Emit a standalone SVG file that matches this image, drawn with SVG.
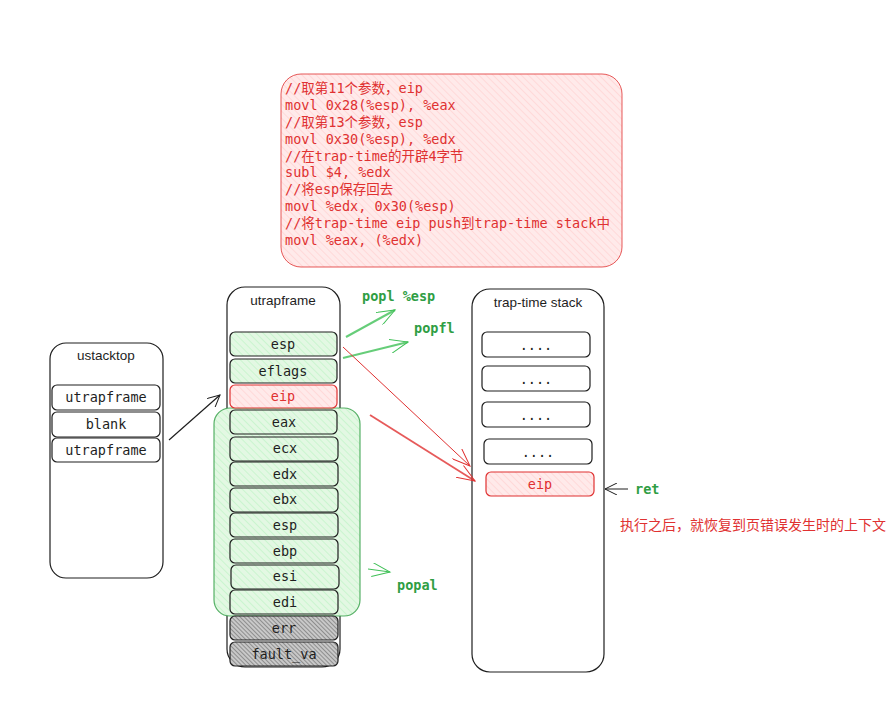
<svg xmlns="http://www.w3.org/2000/svg" width="893" height="715" viewBox="0 0 893 715">
<defs>
<pattern id="hr" width="5" height="5" patternUnits="userSpaceOnUse" patternTransform="rotate(-45)"><rect width="5" height="5" fill="#ffeaea"/><line x1="0" y1="0" x2="0" y2="5" stroke="#ffc9c9" stroke-width="1"/></pattern>
<pattern id="hg" width="5" height="5" patternUnits="userSpaceOnUse" patternTransform="rotate(-45)"><rect width="5" height="5" fill="#e3f8e3"/><line x1="0" y1="0" x2="0" y2="5" stroke="#b2f2bb" stroke-width="1"/></pattern>
<pattern id="hk" width="3" height="3" patternUnits="userSpaceOnUse" patternTransform="rotate(-45)"><rect width="3" height="3" fill="#c8c8c8"/><line x1="0" y1="0" x2="0" y2="3" stroke="#555" stroke-width="1"/></pattern>
<marker id="ab" markerWidth="14" markerHeight="12" refX="12" refY="6" orient="auto" markerUnits="userSpaceOnUse"><path d="M0,0 L12,6 L0,12" fill="none" stroke="#1e1e1e" stroke-width="1"/></marker>
<marker id="ag" markerWidth="20" markerHeight="14" refX="18" refY="7" orient="auto" markerUnits="userSpaceOnUse"><path d="M0,0 L18,7 L0,14" fill="none" stroke="#40c057" stroke-width="1"/></marker>
<marker id="ar" markerWidth="20" markerHeight="14" refX="18" refY="7" orient="auto" markerUnits="userSpaceOnUse"><path d="M0,0 L18,7 L0,14" fill="none" stroke="#e03131" stroke-width="1"/></marker>
</defs>
<style>
.mono{font-family:"DejaVu Sans Mono","Noto Sans CJK SC",monospace;font-size:13.5px}
.hand{font-family:"Liberation Sans","Noto Sans",sans-serif;font-size:13.5px;fill:#1e1e1e}
.cont{fill:#fff;stroke:#1e1e1e;stroke-width:1.2}
.row{fill:#fff;stroke:#1e1e1e;stroke-width:1.2}
.rowg{fill:url(#hg);stroke:#1e1e1e;stroke-width:1.2}
.rowr{fill:url(#hr);stroke:#e03131;stroke-width:1.2}
.rowk{fill:url(#hk);stroke:#1e1e1e;stroke-width:1.2}
.t{fill:#1e1e1e}
.tr{fill:#e03131}
.tg{fill:#2f9e44;font-weight:bold}
</style>
<rect width="893" height="715" fill="#fff"/>

<g id="note">
<rect x="281" y="74" width="341" height="193" rx="20" fill="url(#hr)" stroke="#e03131" stroke-width="1" stroke-opacity="0.8"/>
<g class="mono tr">
<text x="285" y="93">//取第11个参数，eip</text>
<text x="285" y="110">movl 0x28(%esp), %eax</text>
<text x="285" y="127">//取第13个参数，esp</text>
<text x="285" y="144">movl 0x30(%esp), %edx</text>
<text x="285" y="161">//在trap-time的开辟4字节</text>
<text x="285" y="177">subl $4, %edx</text>
<text x="285" y="194">//将esp保存回去</text>
<text x="285" y="211">movl %edx, 0x30(%esp)</text>
<text x="285" y="228">//将trap-time eip push到trap-time stack中</text>
<text x="285" y="245">movl %eax, (%edx)</text>
</g>
</g>

<g id="ustacktop">
<rect class="cont" x="50" y="343" width="113" height="235" rx="16"/>
<text class="hand" x="106" y="360" text-anchor="middle">ustacktop</text>
<rect class="row" x="52" y="385" width="108" height="25" rx="5"/>
<text class="mono t" x="106" y="402" text-anchor="middle">utrapframe</text>
<rect class="row" x="52" y="412" width="108" height="25" rx="5"/>
<text class="mono t" x="106" y="429" text-anchor="middle">blank</text>
<rect class="row" x="52" y="438" width="108" height="24" rx="5"/>
<text class="mono t" x="106" y="455" text-anchor="middle">utrapframe</text>
</g>

<g id="utrapframe">
<rect class="cont" x="227" y="287" width="113" height="380" rx="18"/>
<text class="hand" x="283" y="305" text-anchor="middle">utrapframe</text>
</g>

<g id="popal-group">
<rect x="214" y="408" width="146" height="208" rx="16" fill="url(#hg)" stroke="#2f9e44" stroke-width="1.2" stroke-opacity="0.8"/>
</g>

<g id="frame-rows">
<rect class="rowg" x="230" y="332" width="107" height="24" rx="5"/>
<text class="mono t" x="283" y="349" text-anchor="middle">esp</text>
<rect class="rowg" x="230" y="359" width="107" height="24" rx="5"/>
<text class="mono t" x="283" y="376" text-anchor="middle">eflags</text>
<rect class="rowr" x="230" y="385" width="107" height="23" rx="5"/>
<text class="mono tr" x="283" y="401" text-anchor="middle">eip</text>
<rect class="rowg" x="230" y="410" width="107" height="24" rx="5"/>
<text class="mono t" x="284" y="427" text-anchor="middle">eax</text>
<rect class="rowg" x="230" y="437" width="108" height="24" rx="5"/>
<text class="mono t" x="285" y="453" text-anchor="middle">ecx</text>
<rect class="rowg" x="230" y="462" width="108" height="24" rx="5"/>
<text class="mono t" x="285" y="479" text-anchor="middle">edx</text>
<rect class="rowg" x="230" y="488" width="108" height="24" rx="5"/>
<text class="mono t" x="285" y="504" text-anchor="middle">ebx</text>
<rect class="rowg" x="230" y="513" width="108" height="24" rx="5"/>
<text class="mono t" x="285" y="530" text-anchor="middle">esp</text>
<rect class="rowg" x="230" y="539" width="108" height="24" rx="5"/>
<text class="mono t" x="285" y="556" text-anchor="middle">ebp</text>
<rect class="rowg" x="231" y="565" width="108" height="24" rx="5"/>
<text class="mono t" x="285" y="581" text-anchor="middle">esi</text>
<rect class="rowg" x="230" y="590" width="108" height="24" rx="5"/>
<text class="mono t" x="285" y="607" text-anchor="middle">edi</text>
<rect class="rowk" x="230" y="616" width="108" height="24" rx="5"/>
<text class="mono t" x="284" y="633" text-anchor="middle">err</text>
<rect class="rowk" x="230" y="642" width="108" height="24" rx="5"/>
<text class="mono t" x="284" y="659" text-anchor="middle">fault_va</text>
</g>

<g id="trap-time-stack">
<rect class="cont" x="472" y="289" width="132" height="383" rx="18"/>
<text class="hand" x="538" y="307" text-anchor="middle">trap-time stack</text>
<rect class="row" x="482" y="332" width="108" height="25" rx="5"/>
<text class="mono t" x="536" y="350" text-anchor="middle">....</text>
<rect class="row" x="482" y="366" width="108" height="25" rx="5"/>
<text class="mono t" x="536" y="384" text-anchor="middle">....</text>
<rect class="row" x="482" y="402" width="108" height="25" rx="5"/>
<text class="mono t" x="536" y="420" text-anchor="middle">....</text>
<rect class="row" x="484" y="439" width="108" height="25" rx="5"/>
<text class="mono t" x="538" y="457" text-anchor="middle">....</text>
<rect class="rowr" x="486" y="472" width="108" height="24" rx="5"/>
<text class="mono tr" x="540" y="489" text-anchor="middle">eip</text>
</g>

<g id="connectors" fill="none">
<line x1="169" y1="440" x2="220" y2="395" stroke="#1e1e1e" stroke-width="1.2" marker-end="url(#ab)"/>
<line x1="346" y1="337" x2="395" y2="310" stroke="#40c057" stroke-width="2" stroke-opacity="0.8" marker-end="url(#ag)"/>
<line x1="343" y1="358" x2="408" y2="342" stroke="#40c057" stroke-width="2" stroke-opacity="0.8" marker-end="url(#ag)"/>
<line x1="343" y1="347" x2="470" y2="466" stroke="#e03131" stroke-width="1" marker-end="url(#ar)"/>
<line x1="370" y1="415" x2="475" y2="481" stroke="#e03131" stroke-width="1.8" stroke-opacity="0.8" marker-end="url(#ar)"/>
<line x1="368" y1="569" x2="390" y2="572" stroke="#40c057" stroke-width="1" marker-end="url(#ag)"/>
<line x1="628" y1="489" x2="605" y2="489" stroke="#1e1e1e" stroke-width="1" marker-end="url(#ab)"/>
</g>

<g id="labels">
<text class="mono tg" x="362" y="301">popl %esp</text>
<text class="mono tg" x="414" y="333">popfl</text>
<text class="mono tg" x="397" y="590">popal</text>
<text class="mono tg" x="635" y="494">ret</text>
<text x="620" y="530" font-family="'Noto Sans CJK SC',sans-serif" font-size="14px" fill="#e03131">执行之后，就恢复到页错误发生时的上下文</text>
</g>
</svg>
